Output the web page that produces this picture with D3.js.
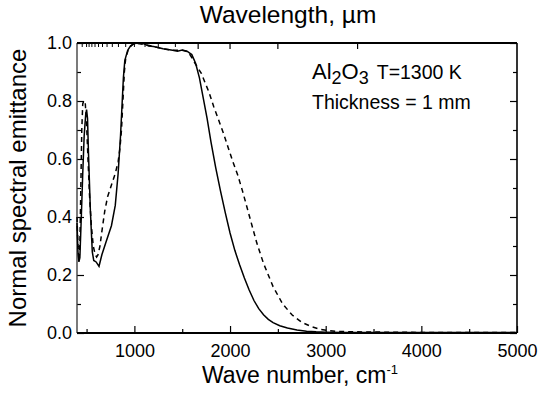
<!DOCTYPE html>
<html>
<head>
<meta charset="utf-8">
<script src="https://cdn.jsdelivr.net/npm/d3@7"></script>
<style>
  body { margin: 0; background: #fff; }
  svg { display: block; font-family: "Liberation Sans", Arial, sans-serif; }
  .axis path { display: none; }
  .axis line { stroke: #000; stroke-width: 1.2; }
  .axis text { font-size: 18px; fill: #000; }
</style>
</head>
<body>
<div id="chart"></div>
<script>
var width = 540;
var height = 393;
var margin = {top: 43, right: 23, bottom: 60, left: 77};

// wave number, cm-1
var solidNu = [400, 410, 420, 430, 445, 460, 475, 490, 500, 510, 520, 540, 560, 575, 600, 620, 630, 660, 700, 760, 800, 830, 855, 870, 885, 900, 930, 960, 1000, 1050, 1100, 1150, 1200, 1300, 1400, 1450, 1500, 1550, 1600, 1640, 1680, 1720, 1760, 1800, 1850, 1900, 1950, 2000, 2050, 2100, 2150, 2200, 2250, 2300, 2350, 2400, 2450, 2520, 2600, 2700, 2800, 2900, 3000, 3200, 3500, 4000, 4500, 5000];
var solidE  = [0.38, 0.28, 0.245, 0.26, 0.40, 0.55, 0.68, 0.75, 0.77, 0.74, 0.62, 0.42, 0.28, 0.25, 0.245, 0.235, 0.23, 0.27, 0.31, 0.37, 0.44, 0.55, 0.68, 0.78, 0.88, 0.94, 0.975, 0.99, 0.998, 1.0, 0.997, 0.99, 0.988, 0.98, 0.975, 0.972, 0.976, 0.972, 0.96, 0.93, 0.88, 0.81, 0.74, 0.66, 0.57, 0.49, 0.415, 0.345, 0.285, 0.235, 0.19, 0.148, 0.112, 0.084, 0.063, 0.047, 0.036, 0.025, 0.017, 0.01, 0.006, 0.004, 0.003, 0.002, 0.002, 0.002, 0.002, 0.002];

var dashNu = [400, 410, 420, 430, 440, 450, 460, 470, 485, 500, 515, 530, 550, 570, 590, 605, 620, 640, 660, 690, 720, 760, 800, 830, 850, 865, 880, 895, 910, 940, 980, 1000, 1100, 1200, 1300, 1400, 1500, 1560, 1600, 1634, 1700, 1780, 1830, 1880, 1930, 1980, 2030, 2080, 2130, 2180, 2230, 2280, 2350, 2450, 2550, 2650, 2750, 2850, 2950, 3100, 3300, 3600, 4000, 4500, 5000];
var dashE  = [0.40, 0.30, 0.25, 0.30, 0.50, 0.70, 0.79, 0.80, 0.80, 0.72, 0.60, 0.48, 0.37, 0.30, 0.27, 0.262, 0.27, 0.30, 0.35, 0.42, 0.47, 0.51, 0.55, 0.59, 0.64, 0.70, 0.80, 0.90, 0.95, 0.98, 0.995, 1.0, 0.995, 0.988, 0.98, 0.975, 0.975, 0.97, 0.95, 0.93, 0.895, 0.83, 0.78, 0.735, 0.69, 0.64, 0.59, 0.545, 0.49, 0.43, 0.37, 0.31, 0.24, 0.16, 0.10, 0.062, 0.037, 0.022, 0.012, 0.006, 0.004, 0.003, 0.002, 0.002, 0.002];

var xTicks = [1000, 2000, 3000, 4000, 5000];
var xMinor = [500, 1500, 2500, 3500, 4500];
var yTicks = [0, 0.2, 0.4, 0.6, 0.8, 1.0];
var yMinor = [0.1, 0.3, 0.5, 0.7, 0.9];
// wavelength ticks for the top axis, um
var wlMajor = [3, 4, 5, 6];
var wlMinor = [7, 8, 9, 10, 11, 12, 13, 14, 15, 16, 17, 18, 19, 20, 22];

var svg = d3.select("#chart").append("svg")
  .attr("width", width)
  .attr("height", height);

var x = d3.scaleLinear().domain([400, 5000]).range([margin.left, width - margin.right]);
var y = d3.scaleLinear().domain([0, 1]).range([height - margin.bottom, margin.top]);

// bottom axis
svg.append("g").attr("class", "axis")
  .attr("transform", "translate(0," + y(0) + ")")
  .call(d3.axisBottom(x).tickValues(xTicks).tickSize(-7).tickPadding(11).tickFormat(d3.format("d")));
svg.append("g").attr("class", "axis")
  .attr("transform", "translate(0," + y(0) + ")")
  .call(d3.axisBottom(x).tickValues(xMinor).tickSize(-4).tickFormat(""));

// left axis
svg.append("g").attr("class", "axis")
  .attr("transform", "translate(" + x(400) + ",0)")
  .call(d3.axisLeft(y).tickValues(yTicks).tickSize(-7).tickPadding(5).tickFormat(d3.format(".1f")));
svg.append("g").attr("class", "axis")
  .attr("transform", "translate(" + x(400) + ",0)")
  .call(d3.axisLeft(y).tickValues(yMinor).tickSize(-4).tickFormat(""));

// right axis, ticks only
svg.append("g").attr("class", "axis")
  .attr("transform", "translate(" + x(5000) + ",0)")
  .call(d3.axisRight(y).tickValues(yTicks).tickSize(-7).tickFormat(""));
svg.append("g").attr("class", "axis")
  .attr("transform", "translate(" + x(5000) + ",0)")
  .call(d3.axisRight(y).tickValues(yMinor).tickSize(-4).tickFormat(""));

// top axis: wavelength = 10000 / wave number
svg.append("g").selectAll("line")
  .data(wlMajor)
  .join("line")
  .attr("x1", function(d) { return x(10000 / d); })
  .attr("x2", function(d) { return x(10000 / d); })
  .attr("y1", y(1))
  .attr("y2", y(1) + 6)
  .attr("stroke", "#000")
  .attr("stroke-width", 1.2);
svg.append("g").selectAll("line")
  .data(wlMinor)
  .join("line")
  .attr("x1", function(d) { return x(10000 / d); })
  .attr("x2", function(d) { return x(10000 / d); })
  .attr("y1", y(1))
  .attr("y2", y(1) + 4)
  .attr("stroke", "#000")
  .attr("stroke-width", 1);

// frame
svg.append("line").attr("x1", x(400)).attr("x2", x(400)).attr("y1", y(1)).attr("y2", y(0))
  .attr("stroke", "#333").attr("stroke-width", 1.3);
svg.append("line").attr("x1", x(5000)).attr("x2", x(5000)).attr("y1", y(1)).attr("y2", y(0))
  .attr("stroke", "#000").attr("stroke-width", 1.6);
svg.append("line").attr("x1", x(400)).attr("x2", x(5000)).attr("y1", y(1)).attr("y2", y(1))
  .attr("stroke", "#000").attr("stroke-width", 2);
svg.append("line").attr("x1", x(400)).attr("x2", x(5000)).attr("y1", y(0)).attr("y2", y(0))
  .attr("stroke", "#000").attr("stroke-width", 2);

// curves
var line = d3.line()
  .x(function(d) { return x(d[0]); })
  .y(function(d) { return y(d[1]); });

svg.append("path")
  .datum(d3.zip(dashNu, dashE))
  .attr("fill", "none")
  .attr("stroke", "#000")
  .attr("stroke-width", 1.5)
  .attr("stroke-dasharray", "5,4")
  .attr("d", line);

svg.append("path")
  .datum(d3.zip(solidNu, solidE))
  .attr("fill", "none")
  .attr("stroke", "#000")
  .attr("stroke-width", 1.5)
  .attr("d", line);

// titles
svg.append("text")
  .attr("text-anchor", "middle")
  .attr("x", 288)
  .attr("y", 23)
  .style("font-size", "24.5px")
  .text("Wavelength, \u00b5m");

var xt = svg.append("text")
  .attr("text-anchor", "middle")
  .attr("x", (x(400) + x(5000)) / 2 + 3)
  .attr("y", 383)
  .style("font-size", "23px");
xt.append("tspan").text("Wave number, cm");
xt.append("tspan").attr("dy", -9).style("font-size", "13px").text("-1");

svg.append("text")
  .attr("text-anchor", "middle")
  .attr("transform", "translate(26," + ((y(0) + y(1)) / 2) + ") rotate(-90)")
  .style("font-size", "24px")
  .text("Normal spectral emittance");

// annotation
var ann = svg.append("text")
  .attr("x", 312)
  .attr("y", 79)
  .style("font-size", "22px");
ann.append("tspan").text("Al");
ann.append("tspan").attr("dy", 5).style("font-size", "18px").text("2");
ann.append("tspan").attr("dy", -5).text("O");
ann.append("tspan").attr("dy", 5).style("font-size", "18px").text("3");
ann.append("tspan").attr("dy", -5).attr("dx", 8).style("font-size", "19.5px").text("T=1300 K");

svg.append("text")
  .attr("x", 312)
  .attr("y", 109)
  .style("font-size", "19.5px")
  .text("Thickness = 1 mm");
</script>
</body>
</html>
